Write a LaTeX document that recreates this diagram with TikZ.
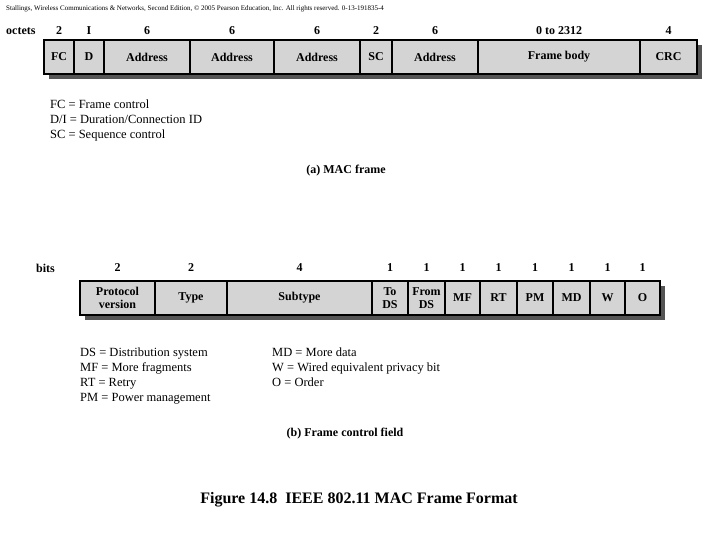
\documentclass[tikz,border=0pt]{standalone}
\usepackage{fontspec}
\setmainfont{Liberation Serif}
\begin{document}
\begin{tikzpicture}[x=1pt,y=-1pt,
 fld/.style={draw=black,line width=1.2pt,fill=boxgray,font=\fontsize{12}{13}\selectfont\bfseries,align=center,inner sep=0pt},
 num/.style={font=\fontsize{12}{13}\selectfont\bfseries,inner sep=0pt},
 leg/.style={font=\fontsize{12.5}{15}\selectfont,anchor=north west,align=left,inner sep=0pt}]
\definecolor{boxgray}{RGB}{212,212,212}
\definecolor{shad}{RGB}{85,85,85}
\useasboundingbox (0,0) rectangle (720,540);
\node[anchor=west,font=\fontsize{7}{8}\selectfont,inner sep=0pt] (cap) at (6,9) {Stallings, Wireless Communications \& Networks, Second Edition, \copyright\ 2005 Pearson Education, Inc. All rights reserved. 0-13-191835-4};
% top frame
\fill[shad] (49,45) rectangle (702,79);
\node[num,anchor=west] (oct) at (6,31) {octets};
\foreach \a/\b/\t/\n [count=\i] in {44/74/FC/2, 74/104/D/I/2, 104/190/Address/6, 190/274/Address/6, 274/360/Address/6, 360/392/SC/2, 392/478/Address/6, 478/640/Frame body/0 to 2312, 640/697/CRC/4}{
  \node[fld,minimum width={\b-\a},minimum height=34] (f\i) at ({(\a+\b)/2},57) {\t};
  \node[num] (n\i) at ({(\a+\b)/2},31) {\n};
}
\node[leg] (lega) at (50,100) {FC = Frame control\\D/I = Duration/Connection ID\\SC = Sequence control};
\node[num] (capa) at (346,171) {(a) MAC frame};
% bottom
\fill[shad] (85,286) rectangle (665,320);
\node[num,anchor=west,font=\fontsize{12}{13}\selectfont\bfseries] (bits) at (36,268) {bits};
\foreach \a/\b/\t/\n [count=\i] in {80/155/{Protocol\\version}/2, 155/227/Type/2, 227/372/Subtype/4, 372/408/{To\\DS}/1, 408/445/{From\\DS}/1, 445/480/MF/1, 480/517/RT/1, 517/553/PM/1, 553/590/MD/1, 590/625/W/1, 625/660/O/1}{
  \node[fld,minimum width={\b-\a},minimum height=34] (g\i) at ({(\a+\b)/2},298) {\t};
  \node[num] (m\i) at ({(\a+\b)/2},268) {\n};
}
\node[leg] (legb1) at (80,348) {DS = Distribution system\\MF = More fragments\\RT = Retry\\PM = Power management};
\node[leg] (legb2) at (272,348) {MD = More data\\W = Wired equivalent privacy bit\\O = Order};
\node[num] (capb) at (345,434) {(b) Frame control field};
\node[font=\fontsize{16}{18}\selectfont\bfseries,inner sep=0pt] (fig) at (359,500) {Figure 14.8\ \ IEEE 802.11 MAC Frame Format};
\end{tikzpicture}
\end{document}
